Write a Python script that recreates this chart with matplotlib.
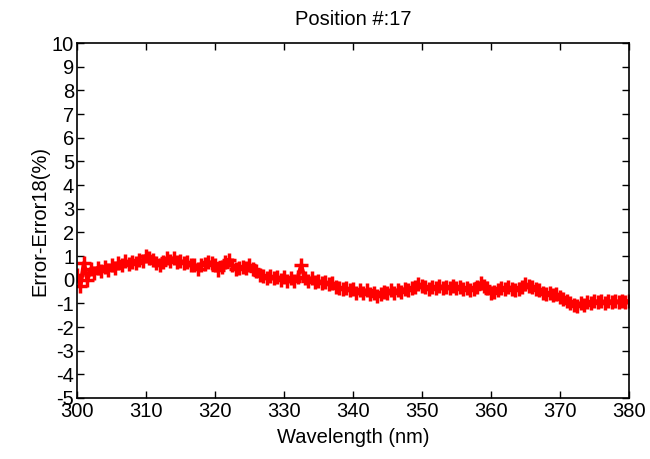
import numpy as np
import matplotlib.pyplot as plt

plt.rcParams['font.family'] = ['Liberation Sans', 'DejaVu Sans']
plt.rcParams['axes.unicode_minus'] = False

# wavelength grid, 0.5 nm steps
wavelength = np.arange(300, 380.01, 0.5)

# relative error difference (%) one row per 5 nm
err_diff = [
    0.2, -0.25, 0.7, 0.0, 0.45, 0.3, 0.5, 0.35, 0.55, 0.4,
    0.6, 0.5, 0.7, 0.6, 0.8, 0.65, 0.75, 0.7, 0.85, 0.8,
    1.0, 0.9, 0.85, 0.7, 0.6, 0.75, 0.9, 0.8, 0.9, 0.75,
    0.8, 0.7, 0.75, 0.6, 0.6, 0.45, 0.6, 0.65, 0.75, 0.7,
    0.6, 0.4, 0.55, 0.75, 0.85, 0.6, 0.45, 0.5, 0.55, 0.5,
    0.6, 0.45, 0.35, 0.2, 0.15, 0.05, 0.15, 0.05, 0.1, 0.0,
    0.1, -0.05, 0.05, -0.05, 0.1, 0.6, 0.05, -0.05, 0.05, -0.1,
    -0.05, -0.15, -0.1, -0.2, -0.15, -0.3, -0.35, -0.4, -0.35, -0.45,
    -0.4, -0.55, -0.45, -0.55, -0.45, -0.6, -0.55, -0.7, -0.6, -0.5,
    -0.55, -0.45, -0.55, -0.45, -0.5, -0.4, -0.45, -0.35, -0.3, -0.2,
    -0.25, -0.3, -0.4, -0.3, -0.35, -0.25, -0.35, -0.3, -0.35, -0.25,
    -0.35, -0.3, -0.4, -0.35, -0.45, -0.4, -0.3, -0.15, -0.25, -0.35,
    -0.55, -0.5, -0.45, -0.35, -0.4, -0.3, -0.4, -0.45, -0.4, -0.3,
    -0.2, -0.25, -0.3, -0.4, -0.45, -0.55, -0.6, -0.55, -0.65, -0.6,
    -0.75, -0.8, -0.9, -1.0, -1.05, -1.1, -1.0, -1.05, -0.95, -1.0,
    -0.9, -0.95, -0.9, -1.0, -0.9, -0.95, -0.9, -0.95, -0.9, -0.95,
    -0.9,
]

x_ticks = np.arange(300, 381, 10)
y_ticks = np.arange(-5, 11, 1)

fig = plt.figure(figsize=(6.5, 4.59), dpi=100)
ax = fig.add_axes([0.1185, 0.1329, 0.849, 0.7734])

ax.plot(wavelength, err_diff, color='red', marker='+', markersize=10,
        markeredgewidth=2.5, linewidth=3)

ax.set_xlim(300, 380)
ax.set_ylim(-5, 10)
ax.set_xticks(x_ticks)
ax.set_yticks(y_ticks)
ax.tick_params(direction='in', top=True, right=True, length=5, width=1,
               labelsize=14.5, pad=3)
ax.tick_params(axis='y', pad=2)
for s in ax.spines.values():
    s.set_linewidth(1.2)

ax.set_title('Position #:17', fontsize=14.5, pad=13)
ax.set_xlabel('Wavelength (nm)', fontsize=14.5, labelpad=5)
ax.set_ylabel('Error-Error18(%)', fontsize=14.5, labelpad=2)

fig.savefig('out.png', dpi=100)
